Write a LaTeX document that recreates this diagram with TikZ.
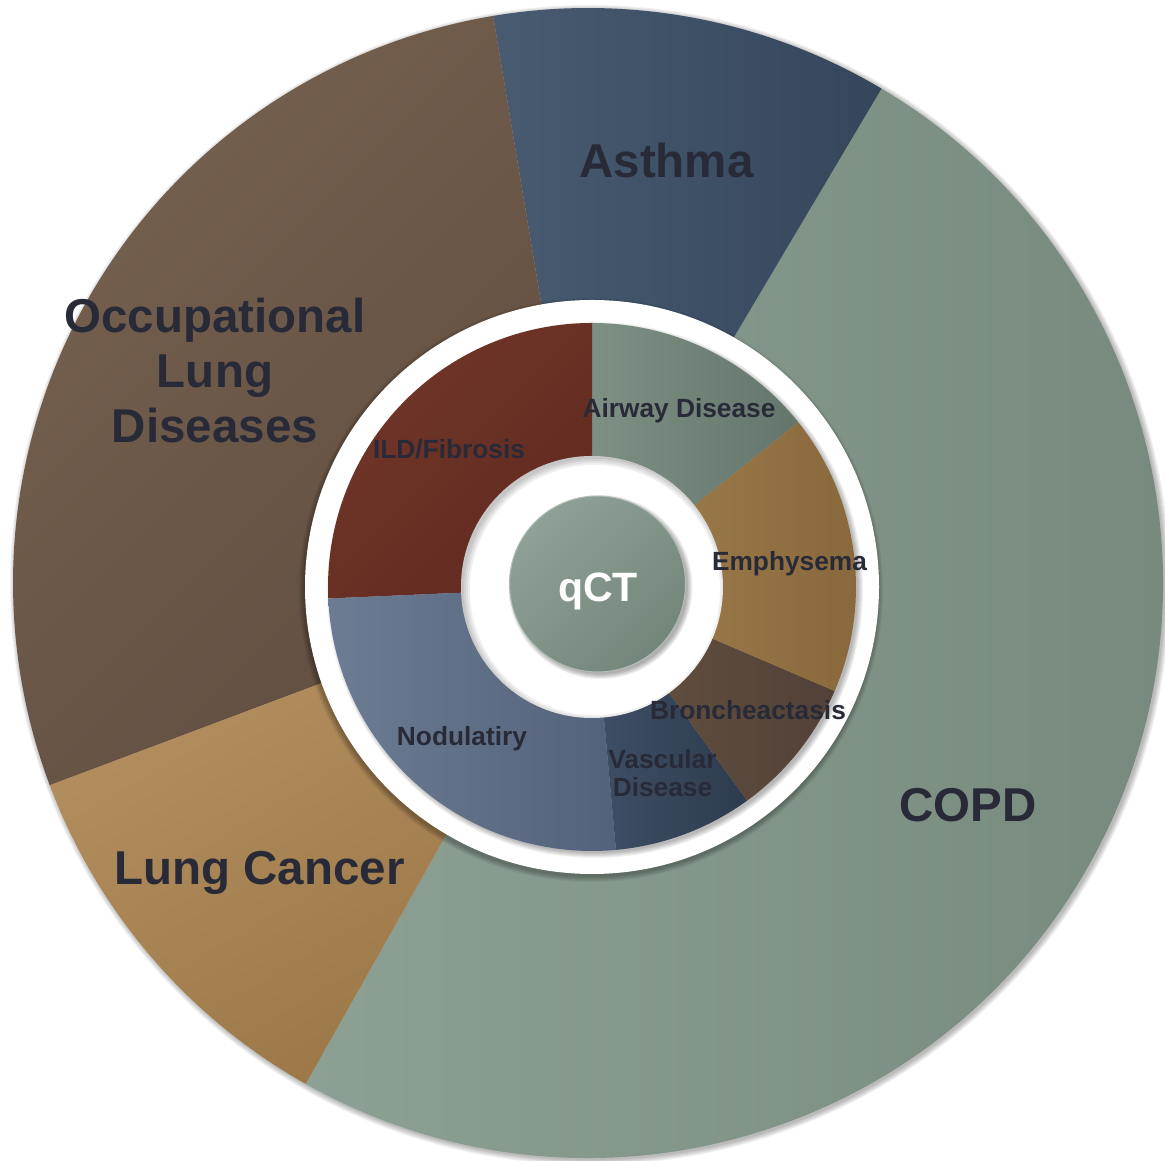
\documentclass[tikz,border=0pt]{standalone}
\usepackage{fontspec}
\setmainfont{Liberation Sans}
\definecolor{txt}{HTML}{282A38}
\definecolor{copdL}{HTML}{8DA094}
\definecolor{copdR}{HTML}{76887C}
\definecolor{asthL}{HTML}{485B71}
\definecolor{asthR}{HTML}{35465B}
\definecolor{occL}{HTML}{76614F}
\definecolor{occR}{HTML}{604D40}
\definecolor{lcL}{HTML}{B69262}
\definecolor{lcR}{HTML}{9A7647}
\definecolor{ildL}{HTML}{713629}
\definecolor{ildR}{HTML}{612A20}
\definecolor{airL}{HTML}{7E9084}
\definecolor{airR}{HTML}{64766B}
\definecolor{emphL}{HTML}{A2804F}
\definecolor{emphR}{HTML}{87673B}
\definecolor{bronL}{HTML}{66523F}
\definecolor{bronR}{HTML}{524139}
\definecolor{vascL}{HTML}{3F4F66}
\definecolor{vascR}{HTML}{2E3B4E}
\definecolor{nodL}{HTML}{6C7C93}
\definecolor{nodR}{HTML}{53627A}
\definecolor{qctL}{HTML}{8FA196}
\definecolor{qctR}{HTML}{74867A}
\newcommand\sect[5]{\shade[#1] (#2) -- ++(#3:#5) arc[start angle=#3, end angle=#4, radius=#5] -- cycle;}
\newcommand\softshadow[5]{% center, radius, dx, dy, opacity
  \foreach \k in {1,...,6}{\fill[black,opacity=#5] ([shift={(#3,#4)}]#1) circle[radius=#2+\k];}}
\begin{document}
\begin{tikzpicture}[x=1pt,y=1pt,
  big/.style={font=\fontsize{47.5}{55}\selectfont\bfseries, text=txt, align=center, inner sep=0pt, anchor=base},
  small/.style={font=\fontsize{26.3}{28.7}\selectfont\bfseries, text=txt, align=center, inner sep=0pt, anchor=base}]
\useasboundingbox (0,0) rectangle (1165,1161);
\clip (0,0) rectangle (1165,1161);
\coordinate (O) at (588,578);
\coordinate (I) at (592,574);
\coordinate (Q) at (597.5,577);
% outer ring
\softshadow{O}{574}{2}{-2}{0.05}
\sect{left color=copdL, right color=copdR}{O}{-119.4}{59.3}{575}
\sect{left color=asthL, right color=asthR}{O}{59.3}{99.5}{575}
\sect{top color=occL, bottom color=occR, shading angle=45}{O}{99.5}{200.6}{575}
\sect{top color=lcL, bottom color=lcR, shading angle=30}{O}{200.6}{240.6}{575}
% white ring
\softshadow{I}{286}{-1}{-3}{0.05}
\fill[white] (I) circle[radius=287];
% inner ring
\softshadow{I}{262}{3}{-3}{0.05}
\sect{left color=airL, right color=airR}{I}{38.6}{90}{264}
\sect{top color=ildL, bottom color=ildR, shading angle=45}{I}{90}{182.5}{264}
\sect{left color=nodL, right color=nodR}{I}{182.5}{275.2}{264}
\sect{left color=vascL, right color=vascR}{I}{275.2}{306}{264}
\sect{left color=bronL, right color=bronR}{I}{306}{336.8}{264}
\sect{left color=emphL, right color=emphR}{I}{336.8}{398.6}{264}
% inner hole
\fill[white] (I) circle[radius=131];
\begin{scope}
  \clip (I) circle[radius=131];
  \foreach \k in {0,2,4,6}{\fill[black,opacity=0.06,even odd rule] (I) circle[radius=140] ([shift={(3,-3)}]I) circle[radius=131-\k];}
\end{scope}
% qCT
\softshadow{Q}{86}{3}{-3}{0.06}
\shade[left color=qctL, right color=qctR, shading angle=45, draw=qctL!70!white, line width=1pt] (Q) circle[radius=88];
% labels
\node[big] (asthma) at (666.5,983) {Asthma};
\node[big] (occ) at (215,718) {Occupational\\Lung\\Diseases};
\node[big] (lc) at (259.5,276.5) {Lung Cancer};
\node[big] (copd) at (968,339) {COPD};
\node[small] (air) at (679,743) {Airway Disease};
\node[small] (ild) at (449,702) {ILD/Fibrosis};
\node[small] (emph) at (789.5,590) {Emphysema};
\node[small] (bron) at (748,441) {Broncheactasis};
\node[small] (vasc) at (662.5,364) {Vascular\\Disease};
\node[small] (nod) at (462,415) {Nodulatiry};
\node[font=\fontsize{41}{41}\selectfont\bfseries, text=white, inner sep=0pt, anchor=base] (qct) at (598,559.5) {qCT};
\end{tikzpicture}
\end{document}
